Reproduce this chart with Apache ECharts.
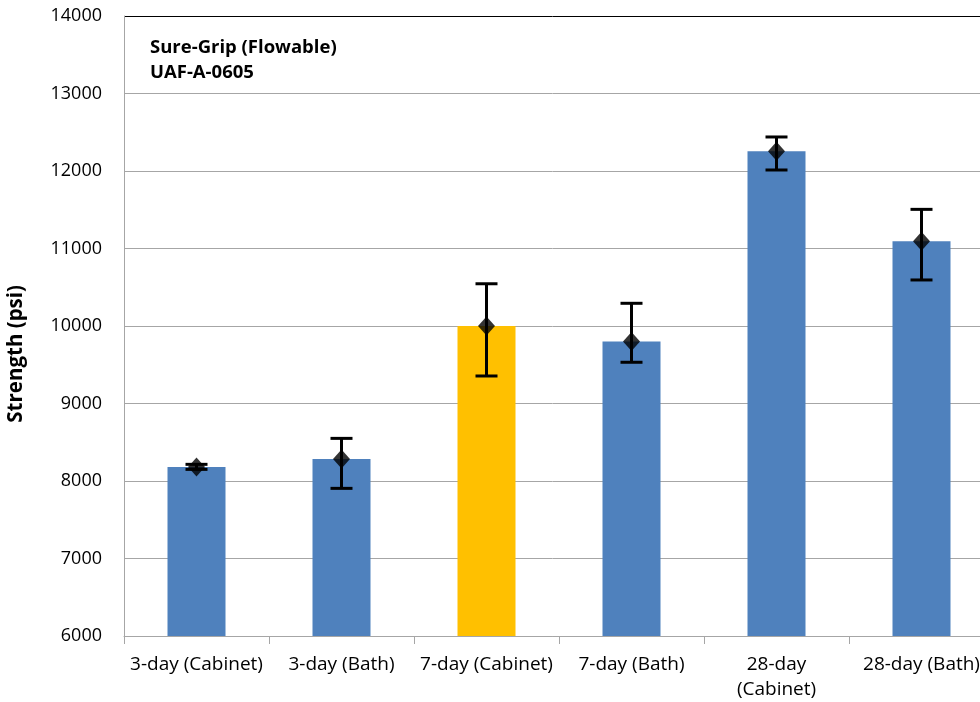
<!DOCTYPE html>
<html><head><meta charset="utf-8">
<script src="https://cdn.jsdelivr.net/npm/echarts@6/dist/echarts.min.js"></script>
<style>html,body{margin:0;padding:0;background:#fff;overflow:hidden}#c{width:980px;height:702px}</style>
</head><body><div id="c"></div>
<script>
const categories = ["3-day (Cabinet)", "3-day (Bath)", "7-day (Cabinet)", "7-day (Bath)", "28-day\n(Cabinet)", "28-day (Bath)"];
const strength = [8180, 8285, 10000, 9800, 12255, 11095];
const errLow = [8150, 7905, 9355, 9532, 12013, 10594];
const errHigh = [8215, 8550, 10545, 10293, 12439, 11505];
const barColors = ["#4F81BD", "#4F81BD", "#FFC000", "#4F81BD", "#4F81BD", "#4F81BD"];
const titleLines = ["Sure-Grip (Flowable)", "UAF-A-0605"];
const yAxisName = "Strength (psi)";
const yTicks = {min: 6000, max: 14000, interval: 1000};

const FONT = "Open Sans";
const chart = echarts.init(document.getElementById('c'), null, {renderer: 'canvas'});
const splitColors = [];
for (let v = yTicks.min; v <= yTicks.max; v += yTicks.interval) splitColors.push(v === yTicks.max ? '#000000' : '#a6a6a6');

chart.setOption({
  animation: false,
  backgroundColor: '#fff',
  title: {
    text: titleLines.join('\n'), left: 150, top: 35, padding: 0,
    textStyle: {fontFamily: FONT, fontWeight: 'bold', fontSize: 18.5, color: '#000', lineHeight: 25}
  },
  graphic: [{
    type: 'text', left: 6, top: 285, rotation: Math.PI / 2,
    style: {text: yAxisName, fontFamily: FONT, fontWeight: 'bold', fontSize: 20.5, fill: '#000'},
    originX: 0, originY: 0
  }],
  grid: {left: 124, top: 16, width: 870, height: 620, containLabel: false, outerBoundsMode: 'none'},
  xAxis: {
    type: 'category', data: categories,
    axisLine: {lineStyle: {color: '#a6a6a6', width: 1}},
    axisTick: {show: true, length: 8, lineStyle: {color: '#a6a6a6'}},
    axisLabel: {interval: 0, fontFamily: FONT, fontSize: 19, color: '#000', margin: 16, lineHeight: 25}
  },
  yAxis: {
    type: 'value', min: yTicks.min, max: yTicks.max, interval: yTicks.interval,
    axisLine: {show: true, lineStyle: {color: '#a6a6a6'}},
    axisTick: {show: false},
    splitLine: {lineStyle: {color: splitColors, width: 1}},
    axisLabel: {fontFamily: FONT, fontSize: 18, color: '#000', margin: 22, formatter: v => String(v)}
  },
  series: [
    {
      type: 'bar', barWidth: 58,
      data: strength.map((v, i) => ({value: v, itemStyle: {color: barColors[i]}})),
      z: 2
    },
    {
      type: 'custom', z: 5,
      data: categories.map((c, i) => [i, errLow[i], errHigh[i]]),
      renderItem: function (params, api) {
        const lo = api.coord([api.value(0), api.value(1)]);
        const hi = api.coord([api.value(0), api.value(2)]);
        const hw = 11;
        const st = {stroke: '#000', lineWidth: 3};
        return {type: 'group', children: [
          {type: 'line', shape: {x1: lo[0], y1: lo[1], x2: hi[0], y2: hi[1]}, style: st},
          {type: 'line', shape: {x1: lo[0] - hw, y1: lo[1], x2: lo[0] + hw, y2: lo[1]}, style: st},
          {type: 'line', shape: {x1: hi[0] - hw, y1: hi[1], x2: hi[0] + hw, y2: hi[1]}, style: st}
        ]};
      }
    },
    {
      type: 'scatter', z: 6, symbol: 'diamond', symbolSize: [17, 19],
      itemStyle: {color: '#000'},
      data: strength.map((v, i) => [i, v])
    }
  ]
});
</script></body></html>
